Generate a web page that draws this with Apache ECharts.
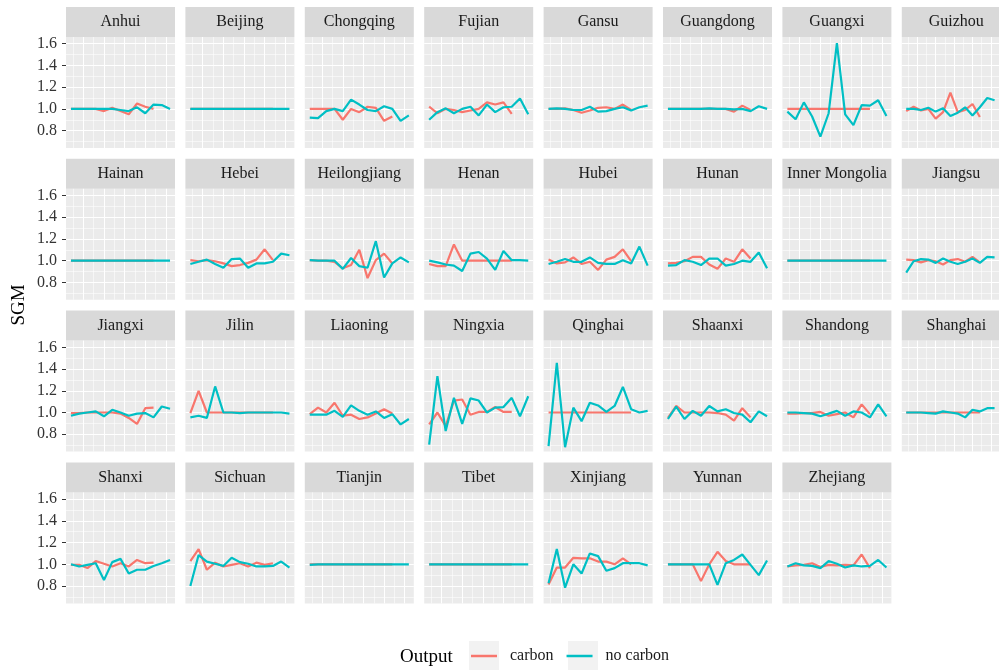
<!DOCTYPE html>
<html><head><meta charset="utf-8">
<script src="https://cdn.jsdelivr.net/npm/echarts@6/dist/echarts.min.js"></script>
<style>html,body{margin:0;padding:0;background:#fff}#c{width:999px;height:670px}</style>
</head><body><div id="c"></div>
<script>
// ---- data ----
const provinces = ['Anhui','Beijing','Chongqing','Fujian','Gansu','Guangdong','Guangxi','Guizhou',
  'Hainan','Hebei','Heilongjiang','Henan','Hubei','Hunan','Inner Mongolia','Jiangsu',
  'Jiangxi','Jilin','Liaoning','Ningxia','Qinghai','Shaanxi','Shandong','Shanghai',
  'Shanxi','Sichuan','Tianjin','Tibet','Xinjiang','Yunnan','Zhejiang'];
const periods = [1,2,3,4,5,6,7,8,9,10,11,12,13];
const yTickLabels = [0.8,1.0,1.2,1.4,1.6];
const yMinorBreaks = [0.7,0.9,1.1,1.3,1.5];
const xMajorBreaks = [2.5,5,7.5,10,12.5];
const xMinorBreaks = [1.25,3.75,6.25,8.75,11.25];
const seriesNames = ['carbon','no carbon'];

const anhuiC = [1,1,1,1,0.98,1.01,0.98,0.95,1.05,1.02,1.0];
const anhuiN = [1,1,1,1,1,1,0.99,0.98,1.015,0.96,1.04,1.035,1.0];
const beijingC = [1,1,1,1,1,1,1,1,1,1,1];
const beijingN = [1,1,1,1,1,1,1,1,1,1,1,1,1];
const chongqingC = [1,1,1,1,0.9,1.0,0.97,1.02,1.01,0.89,0.93];
const chongqingN = [0.92,0.915,0.98,1.0,0.98,1.085,1.04,0.99,0.98,1.025,1.0,0.89,0.94];
const fujianC = [1.02,0.96,1.0,0.99,0.97,0.985,1.0,1.06,1.04,1.06,0.955];
const fujianN = [0.9,0.97,1.005,0.96,1.0,1.02,0.94,1.04,0.97,1.015,1.02,1.095,0.95];
const gansuC = [1,1,1.005,0.99,0.965,0.985,1.01,1.015,1.0,1.04,0.99];
const gansuN = [1,1.005,1,0.99,0.99,1.02,0.975,0.98,1.0,1.015,0.985,1.015,1.03];
const guangdongC = [1,1,1,1,1,1,1,1,0.975,1.03,0.99];
const guangdongN = [1,1,1,1,1,1.005,1,1,0.995,1,0.98,1.025,1.0];
const guangxiC = [1,1,1,1,1,1,1,1,1,1,1];
const guangxiN = [0.975,0.905,1.06,0.93,0.745,0.96,1.605,0.95,0.85,1.035,1.03,1.08,0.935];
const guizhouC = [0.98,1.02,0.985,1.0,0.91,0.97,1.15,0.97,0.99,1.045,0.925];
const guizhouN = [1,1,0.99,1.01,0.975,1.005,0.935,0.965,1.015,0.94,1.015,1.1,1.08];
const hainanC = [1,1,1,1,1,1,1,1,1,1,1];
const hainanN = [1,1,1,1,1,1,1,1,1,1,1,1,1];
const hebeiC = [1.005,0.995,1.005,0.995,0.975,0.95,0.96,0.98,1.01,1.105,1.005];
const hebeiN = [0.97,0.99,1.01,0.97,0.935,1.015,1.02,0.935,0.975,0.975,0.99,1.065,1.05];
const heilongjiangC = [1.005,1,1,0.99,0.93,0.96,1.1,0.84,1.005,1.065,0.975];
const heilongjiangN = [1.005,1,1,1,0.925,1.025,0.95,0.935,1.18,0.845,0.975,1.03,0.985];
const henanC = [0.97,0.95,0.95,1.15,1,1,1,1,1,1,1];
const henanN = [1.0,0.985,0.965,0.955,0.905,1.065,1.08,1.02,0.915,1.09,1.005,1.005,1.0];
const hubeiC = [1.01,0.975,0.985,1.03,0.97,0.99,0.915,1.01,1.035,1.105,0.995];
const hubeiN = [0.97,0.99,1.015,0.99,0.99,1.03,0.98,0.97,0.97,1.005,0.975,1.13,0.955];
const hunanC = [0.975,0.98,0.995,1.035,1.035,0.965,0.925,1.02,0.99,1.105,1.02];
const hunanN = [0.955,0.96,1.005,0.99,0.96,1.02,1.02,0.955,0.97,1.0,0.99,1.075,0.93];
const innerMongoliaC = [1,1,1,1,1,1,1,1,1,1,1];
const innerMongoliaN = [1,1,1,1,1,1,1,1,1,1,1,1,1];
const jiangsuC = [1.01,1.005,0.985,1.005,0.995,0.965,1.005,1.015,0.99,1.035,0.985];
const jiangsuN = [0.89,0.995,1.015,1.01,0.98,1.02,0.99,0.97,0.99,1.02,0.98,1.035,1.03];
const jiangxiC = [0.995,0.995,1,1,1,1,0.99,0.95,0.895,1.04,1.045];
const jiangxiN = [0.97,0.99,1.0,1.01,0.965,1.025,1.0,0.97,0.99,0.995,0.955,1.055,1.035];
const jilinC = [0.995,1.2,1,1,1,1,1,1,1,1,1];
const jilinN = [0.955,0.97,0.95,1.24,1,1,0.995,1,1,1,1,1,0.99];
const liaoningC = [0.985,1.045,1.0,1.09,0.97,0.98,0.94,0.955,0.99,1.03,0.99];
const liaoningN = [0.98,0.98,0.98,1.015,0.96,1.065,1.015,0.98,1.01,0.95,0.985,0.89,0.94];
const ningxiaC = [0.89,1.0,0.875,1.11,1.12,0.98,1.005,1.005,1.05,1.005,1.005];
const ningxiaN = [0.705,1.335,0.83,1.135,0.895,1.13,1.11,1.0,1.045,1.05,1.135,0.965,1.15];
const qinghaiC = [1,1,1,1,1,1,1,1,1,1,1];
const qinghaiN = [0.69,1.458,0.68,1.045,0.92,1.09,1.065,1.005,1.06,1.235,1.03,1.0,1.015];
const shaanxiC = [0.95,1.06,1,1,1,1,0.995,0.98,0.925,1.04,0.955];
const shaanxiN = [0.94,1.055,0.94,1.015,0.97,1.06,1.01,1.03,0.995,0.98,0.91,1.01,0.965];
const shandongC = [0.99,0.99,0.995,0.995,1.005,0.97,0.985,1.0,0.955,1.075,0.985];
const shandongN = [1,1,0.995,0.99,0.965,0.99,1.015,0.97,1.01,1.0,0.955,1.075,0.965];
const shanghaiC = [1,1,1,1,1,1,1,1,1,1,1];
const shanghaiN = [1,1,1,0.995,0.99,1.01,1.0,0.99,0.955,1.025,1.01,1.04,1.04];
const shanxiC = [0.995,0.995,0.965,1.03,1.005,0.98,1.01,0.98,1.04,1.01,1.015];
const shanxiN = [1,0.98,0.995,1.01,0.855,1.02,1.05,0.915,0.95,0.95,0.985,1.01,1.04];
const sichuanC = [1.03,1.14,0.95,1.015,0.98,0.995,1.01,0.98,1.015,0.995,1.01];
const sichuanN = [0.8,1.085,1.025,1.005,0.985,1.06,1.02,1.005,0.98,0.98,0.985,1.025,0.97];
const tianjinC = [1,1,1,1,1,1,1,1,1,1,1];
const tianjinN = [0.995,1,1,1,1,1,1,1,1,1,1,1,1];
const tibetC = [1,1,1,1,1,1,1,1,1,1,1];
const tibetN = [1,1,1,1,1,1,1,1,1,1,1,1,1];
const xinjiangC = [0.815,0.97,0.97,1.06,1.055,1.055,1.025,1.025,1.0,1.055,1.0];
const xinjiangN = [0.825,1.14,0.785,1.0,0.915,1.1,1.075,0.94,0.965,1.01,1.01,1.01,0.99];
const yunnanC = [1,1,1,1,0.845,1.0,1.115,1.03,1.0,1.0,1.0];
const yunnanN = [1,1,1,1,1,1,0.81,1.01,1.04,1.09,0.995,0.9,1.035];
const zhejiangC = [0.98,0.99,0.995,1.01,0.975,0.995,0.99,0.995,0.99,1.09,0.965];
const zhejiangN = [0.98,1.01,0.99,0.985,0.965,1.03,1.005,0.97,0.99,0.98,0.985,1.04,0.97];

const carbonData = [anhuiC,beijingC,chongqingC,fujianC,gansuC,guangdongC,guangxiC,guizhouC,
  hainanC,hebeiC,heilongjiangC,henanC,hubeiC,hunanC,innerMongoliaC,jiangsuC,
  jiangxiC,jilinC,liaoningC,ningxiaC,qinghaiC,shaanxiC,shandongC,shanghaiC,
  shanxiC,sichuanC,tianjinC,tibetC,xinjiangC,yunnanC,zhejiangC];
const noCarbonData = [anhuiN,beijingN,chongqingN,fujianN,gansuN,guangdongN,guangxiN,guizhouN,
  hainanN,hebeiN,heilongjiangN,henanN,hubeiN,hunanN,innerMongoliaN,jiangsuN,
  jiangxiN,jilinN,liaoningN,ningxiaN,qinghaiN,shaanxiN,shandongN,shanghaiN,
  shanxiN,sichuanN,tianjinN,tibetN,xinjiangN,yunnanN,zhejiangN];

// ---- layout / style ----
const SERIF = '"Liberation Serif","DejaVu Serif",serif';
const COLS = 8, PW = 109, PH = 111, STRIP = 30;
const X0 = 66, DX = 119.4, Y0 = 37, DY = 151.8;
const YMIN = 0.64, YMAX = 1.662, XMIN = 0.4, XMAX = 13.6;
const COL_C = '#F8766D', COL_N = '#00BFC4';
const LW = 2.2;

const grids = [], xAxes = [], yAxes = [], series = [], graphics = [];
provinces.forEach((name, i) => {
  const c = i % COLS, r = Math.floor(i / COLS);
  const left = X0 + DX * c, top = Y0 + DY * r;
  grids.push({left: left, top: top, width: PW, height: PH, show: true,
    backgroundColor: '#EBEBEB', borderWidth: 0});
  // strip
  graphics.push({type: 'rect', shape: {x: left, y: top - STRIP, width: PW, height: STRIP},
    style: {fill: '#D9D9D9'}, silent: true});
  graphics.push({type: 'text', x: left + PW / 2, y: top - STRIP / 2,
    style: {text: name, fill: '#1A1A1A', font: '16px ' + SERIF,
      align: 'center', verticalAlign: 'middle', textAlign: 'center', textVerticalAlign: 'middle'}, silent: true});
  const xMaj = xAxes.length;
  xAxes.push({gridIndex: i, type: 'value', min: XMIN, max: XMAX, position: 'bottom',
    axisLine: {show: false}, axisTick: {show: false, customValues: xMajorBreaks},
    axisLabel: {show: false, customValues: xMajorBreaks},
    splitLine: {show: true, lineStyle: {color: '#FFFFFF', width: 1.1}}});
  xAxes.push({gridIndex: i, type: 'value', min: XMIN, max: XMAX, position: 'top',
    axisLine: {show: false}, axisTick: {show: false, customValues: xMinorBreaks},
    axisLabel: {show: false, customValues: xMinorBreaks},
    splitLine: {show: true, lineStyle: {color: '#FFFFFF', width: 0.55}}});
  const yMaj = yAxes.length;
  const firstCol = c === 0;
  yAxes.push({gridIndex: i, type: 'value', min: YMIN, max: YMAX, position: 'left',
    axisLine: {show: false},
    axisTick: {show: firstCol, length: 4, lineStyle: {color: '#333', width: 1}, customValues: yTickLabels},
    axisLabel: {show: firstCol, customValues: yTickLabels, margin: 9, color: '#333',
      fontFamily: SERIF, fontSize: 16, formatter: v => Number(v).toFixed(1)},
    splitLine: {show: true, lineStyle: {color: '#FFFFFF', width: 1.1}}});
  yAxes.push({gridIndex: i, type: 'value', min: YMIN, max: YMAX, position: 'right',
    axisLine: {show: false}, axisTick: {show: false, customValues: yMinorBreaks},
    axisLabel: {show: false, customValues: yMinorBreaks},
    splitLine: {show: true, lineStyle: {color: '#FFFFFF', width: 0.55}}});
  series.push({name: seriesNames[0], type: 'line', xAxisIndex: xMaj, yAxisIndex: yMaj,
    symbol: 'none', showSymbol: false, silent: true, animation: false,
    lineStyle: {color: COL_C, width: LW}, itemStyle: {color: COL_C},
    data: carbonData[i].map((v, k) => [periods[k], v])});
  series.push({name: seriesNames[1], type: 'line', xAxisIndex: xMaj, yAxisIndex: yMaj,
    symbol: 'none', showSymbol: false, silent: true, animation: false,
    lineStyle: {color: COL_N, width: LW}, itemStyle: {color: COL_N},
    data: noCarbonData[i].map((v, k) => [periods[k], v])});
});

// y-axis title
graphics.push({type: 'text', x: 19, y: 305, rotation: Math.PI / 2,
  style: {text: 'SGM', fill: '#000', font: '19px ' + SERIF,
    align: 'center', verticalAlign: 'middle', textAlign: 'center', textVerticalAlign: 'middle'}, silent: true});
// legend title and key backgrounds
graphics.push({type: 'text', x: 400, y: 657,
  style: {text: 'Output', fill: '#000', font: '19px ' + SERIF,
    align: 'left', verticalAlign: 'middle', textAlign: 'left', textVerticalAlign: 'middle'}, silent: true});
graphics.push({type: 'rect', shape: {x: 469, y: 641, width: 30, height: 29}, style: {fill: '#F2F2F2'}, silent: true, z: -1});
graphics.push({type: 'rect', shape: {x: 568, y: 641, width: 30, height: 29}, style: {fill: '#F2F2F2'}, silent: true, z: -1});

const chart = echarts.init(document.getElementById('c'), null, {renderer: 'canvas'});
chart.setOption({
  backgroundColor: '#FFFFFF',
  animation: false,
  grid: grids, xAxis: xAxes, yAxis: yAxes, series: series,
  graphic: {elements: graphics},
  legend: {data: seriesNames, left: 471, top: 648, padding: 0, itemWidth: 26, itemHeight: 2.5,
    icon: 'rect', itemGap: 13, selectedMode: false,
    textStyle: {fontFamily: SERIF, fontSize: 16, color: '#1A1A1A', padding: [0, 0, 0, 8]}}
});
</script></body></html>
